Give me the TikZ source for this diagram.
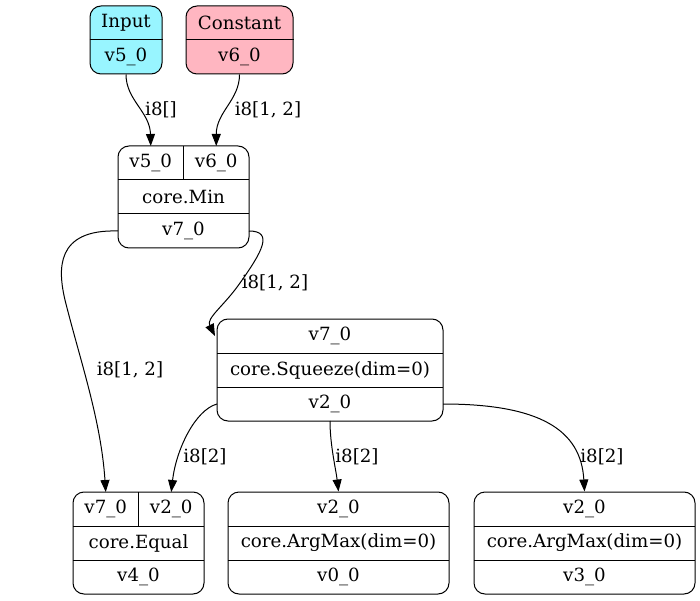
\documentclass[tikz,border=0pt]{standalone}
\usepackage{fontspec}
\setmainfont{DejaVu Serif}
\usetikzlibrary{arrows.meta}
\definecolor{inputfill}{HTML}{98F5FF}
\definecolor{constfill}{HTML}{FFB6C1}
\begin{document}
\begin{tikzpicture}[x=1pt,y=-1pt,
  rec/.style={draw, line width=1pt, rounded corners=11pt, inner sep=0pt},
  sep/.style={line width=1pt},
  txt/.style={inner sep=0pt, font=\fontsize{18.2}{20}\selectfont},
  elbl/.style={inner sep=0pt, font=\fontsize{18.2}{20}\selectfont},
  flow/.style={line width=1pt, -{Triangle[length=12pt,width=9pt]}},
]
\useasboundingbox (0,0) rectangle (700,601);

% ---- Input ----
\node[rec, fill=inputfill, minimum width=72pt, minimum height=68pt] (inp) at (126,40) {};
\draw[sep] (inp.west) -- (inp.east);
\node[txt] (inpT) at (126,23) {Input};
\node[txt] (inpV) at (126,57) {v5\_0};

% ---- Constant ----
\node[rec, fill=constfill, minimum width=107pt, minimum height=68pt] (con) at (239.5,40) {};
\draw[sep] (con.west) -- (con.east);
\node[txt] (conT) at (239.5,23) {Constant};
\node[txt] (conV) at (239.5,57) {v6\_0};

% ---- core.Min ----
\node[rec, minimum width=131pt, minimum height=102pt] (mn) at (183.5,197) {};
\draw[sep] (118,180) -- (249,180);
\draw[sep] (118,214) -- (249,214);
\draw[sep] (183.5,146) -- (183.5,180);
\node[txt] (mnA) at (150.75,163) {v5\_0};
\node[txt] (mnB) at (216.25,163) {v6\_0};
\node[txt] (mnOp) at (183.5,197) {core.Min};
\node[txt] (mnOut) at (183.5,231) {v7\_0};
\coordinate (mnInA) at (150.75,146);
\coordinate (mnInB) at (216.25,146);
\coordinate (mnOutL) at (118,231);
\coordinate (mnOutR) at (249,231);

% ---- core.Squeeze ----
\node[rec, minimum width=226pt, minimum height=102pt] (sq) at (330,370) {};
\draw[sep] (217,353) -- (443,353);
\draw[sep] (217,387) -- (443,387);
\node[txt] (sqIn) at (330,336) {v7\_0};
\node[txt] (sqOp) at (330,370) {core.Squeeze(dim=0)};
\node[txt] (sqOut) at (330,404) {v2\_0};
\coordinate (sqInTip) at (215,336);
\coordinate (sqOutL) at (217,404);
\coordinate (sqOutB) at (330,421);
\coordinate (sqOutR) at (443,404);

% ---- core.Equal ----
\node[rec, minimum width=131pt, minimum height=102pt] (eq) at (138.5,543) {};
\draw[sep] (73,526) -- (204,526);
\draw[sep] (73,560) -- (204,560);
\draw[sep] (138.5,492) -- (138.5,526);
\node[txt] (eqA) at (105.75,509) {v7\_0};
\node[txt] (eqB) at (171.25,509) {v2\_0};
\node[txt] (eqOp) at (138.5,543) {core.Equal};
\node[txt] (eqOut) at (138.5,577) {v4\_0};
\coordinate (eqInA) at (105.75,492);
\coordinate (eqInB) at (171.25,492);

% ---- core.ArgMax (first) ----
\node[rec, minimum width=221pt, minimum height=102pt] (am1) at (338.5,543) {};
\draw[sep] (228,526) -- (449,526);
\draw[sep] (228,560) -- (449,560);
\node[txt] (am1In) at (338.5,509) {v2\_0};
\node[txt] (am1Op) at (338.5,543) {core.ArgMax(dim=0)};
\node[txt] (am1Out) at (338.5,577) {v0\_0};

% ---- core.ArgMax (second) ----
\node[rec, minimum width=221pt, minimum height=102pt] (am2) at (584.5,543) {};
\draw[sep] (474,526) -- (695,526);
\draw[sep] (474,560) -- (695,560);
\node[txt] (am2In) at (584.5,509) {v2\_0};
\node[txt] (am2Op) at (584.5,543) {core.ArgMax(dim=0)};
\node[txt] (am2Out) at (584.5,577) {v3\_0};

% ---- connectors ----
\draw[flow] (inp.south) .. controls (126,100) and (150,112) .. (mnInA);
\node[elbl] (l1) at (161,110) {i8[]};

\draw[flow] (con.south) .. controls (239.5,100) and (216.25,112) .. (mnInB);
\node[elbl] (l2) at (268,110) {i8[1, 2]};

\draw[flow] (mnOutR) .. controls (274,231) and (262,252) .. (240,283)
  .. controls (224,306) and (206,318) .. (sqInTip);
\node[elbl] (l3) at (275,283) {i8[1, 2]};

\draw[flow] (mnOutL) .. controls (55,229) and (58,270) .. (65,300)
  .. controls (80,360) and (101,420) .. (eqInA);
\node[elbl] (l4) at (130,370) {i8[1, 2]};

\draw[flow] (sqOutL) .. controls (195,410) and (176,450) .. (eqInB);
\node[elbl] (l5) at (205,457) {i8[2]};

\draw[flow] (sqOutB) .. controls (330,445) and (336,470) .. (am1.north);
\node[elbl] (l6) at (357,457) {i8[2]};

\draw[flow] (sqOutR) .. controls (540,404) and (581,430) .. (am2.north);
\node[elbl] (l7) at (602,457) {i8[2]};
\end{tikzpicture}
\end{document}
